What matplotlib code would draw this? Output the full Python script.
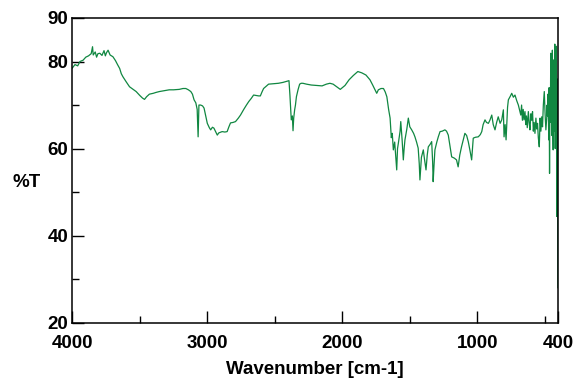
import matplotlib
matplotlib.use("Agg")
import matplotlib.pyplot as plt

# IR spectrum: wavenumber (cm-1) and %T
wavenumber = [
    4000, 3980, 3960, 3943, 3920, 3900, 3880, 3860, 3850, 3845, 3830, 3820,
    3810, 3796, 3780, 3765, 3755, 3747, 3735, 3720, 3699, 3680, 3665, 3649,
    3637, 3625, 3600, 3576, 3550, 3527, 3500, 3480, 3465, 3450, 3429, 3400,
    3380, 3355, 3320, 3282, 3250, 3208, 3180, 3159, 3140, 3122, 3110, 3098,
    3085, 3075, 3068, 3062, 3049, 3035, 3024, 3012, 3000, 2985, 2975, 2962,
    2951, 2940, 2926, 2915, 2890, 2870, 2853, 2840, 2828, 2810, 2791, 2770,
    2754, 2730, 2710, 2693, 2675, 2657, 2640, 2620, 2607, 2595, 2583, 2565,
    2546, 2510, 2473, 2440, 2395, 2388, 2378, 2370, 2365, 2360, 2353, 2347,
    2340, 2328, 2316, 2305, 2292, 2265, 2230, 2190, 2150, 2118, 2092, 2068,
    2042, 2015, 1980, 1950, 1918, 1885, 1856, 1825, 1795, 1775, 1758, 1745,
    1733, 1713, 1695, 1682, 1670, 1657, 1646, 1637, 1630, 1622, 1612, 1604,
    1597, 1591, 1585, 1572, 1567, 1557, 1548, 1542, 1536, 1522, 1511, 1500,
    1486, 1472, 1462, 1450, 1438, 1430, 1425, 1414, 1400, 1391, 1380, 1371,
    1363, 1349, 1338, 1331, 1327, 1321, 1314, 1300, 1289, 1276, 1260, 1240,
    1228, 1215, 1202, 1190, 1170, 1154, 1142, 1130, 1117, 1104, 1092, 1079,
    1067, 1054, 1042, 1036, 1030, 1014, 993, 978, 967, 957, 943, 932,
    918, 907, 893, 882, 869, 857, 845, 831, 819, 807, 802, 794,
    787, 776, 770, 756, 745, 733, 721, 708, 696, 684, 678, 672,
    666, 660, 654, 647, 641, 636, 630, 622, 616, 610, 603, 597,
    591, 585, 579, 573, 566, 560, 554, 548, 541, 535, 529, 523,
    517, 511, 504, 498, 492, 486, 483, 480, 477, 474, 471, 468,
    465, 462, 459, 456, 453, 450, 447, 444, 441, 438, 435, 432,
    429, 426, 423, 420, 417, 414, 411, 408, 405, 403, 402,
]
transmittance = [
    78.5, 79.3, 79.0, 80.0, 80.3, 81.0, 81.3, 81.8, 83.4, 81.5, 82.2, 81.0,
    81.8, 81.9, 81.4, 82.5, 81.3, 82.0, 82.6, 81.5, 81.1, 80.2, 79.3, 78.4,
    77.2, 76.5, 75.3, 74.2, 73.6, 73.1, 72.2, 71.6, 71.3, 71.9, 72.5, 72.7,
    72.9, 73.1, 73.3, 73.5, 73.5, 73.6, 73.8, 73.8, 73.5, 73.1, 72.5, 71.2,
    70.5, 69.0, 62.7, 70.0, 70.0, 69.8, 69.3, 67.5, 65.8, 64.8, 64.3, 64.9,
    64.7, 64.0, 63.1, 63.6, 63.9, 63.8, 63.9, 65.0, 65.9, 66.0, 66.2, 67.0,
    67.7, 69.0, 70.0, 70.8, 71.5, 72.3, 72.2, 72.1, 72.1, 73.0, 73.8, 74.3,
    74.8, 74.9, 75.0, 75.2, 75.6, 72.3, 66.6, 67.5, 64.1, 67.0, 68.9, 70.0,
    71.9, 73.5, 74.8, 75.0, 75.0, 74.8, 74.6, 74.5, 74.4, 74.8, 75.0, 74.8,
    74.2, 73.6, 74.5, 75.8, 76.8, 77.7, 77.4, 76.9, 75.8, 74.6, 73.5, 72.7,
    73.5, 73.8, 73.8, 73.0, 71.9, 69.0, 67.0, 62.5, 63.5, 59.7, 61.5, 58.0,
    55.1, 60.0, 61.2, 64.0, 66.2, 62.0, 57.4, 60.0, 62.0, 64.5, 67.0, 65.0,
    64.3, 63.5, 62.7, 61.5, 60.1, 56.5, 52.8, 58.0, 59.7, 57.5, 55.1, 58.5,
    60.4, 61.0, 61.6, 57.0, 52.4, 56.0, 59.7, 61.5, 62.7, 63.9, 64.0, 64.3,
    64.0, 63.1, 60.5, 58.1, 57.8, 57.4, 55.8, 58.5, 60.4, 62.0, 63.5, 63.0,
    61.6, 59.5, 57.4, 60.0, 62.4, 62.6, 62.7, 63.2, 63.9, 65.5, 66.6, 66.0,
    65.8, 66.5, 67.7, 65.5, 64.3, 66.0, 67.3, 65.8, 66.6, 68.9, 62.7, 65.5,
    62.0, 69.5, 71.2, 72.0, 72.7, 71.8, 72.3, 71.0, 70.0, 68.5, 67.7, 70.0,
    66.5, 69.0, 66.6, 68.5, 65.5, 67.5, 64.8, 68.5, 66.0, 64.3, 68.0, 66.5,
    68.5, 64.0, 66.0, 63.5, 67.0, 64.5, 65.8, 62.5, 60.4, 67.0, 64.0, 67.3,
    65.0, 70.0, 73.1, 68.0, 64.3, 67.0, 70.0, 67.5, 72.5, 69.6, 62.0, 74.0,
    54.3, 72.0, 66.0, 81.9, 68.0, 79.0, 63.0, 82.6, 66.0, 59.7, 75.0, 80.4,
    64.0, 84.0, 60.0, 78.8, 66.0, 83.5, 44.4, 76.0, 65.0, 28.0, 28.0,
]

plt.rcParams['font.family'] = ['Liberation Sans', 'DejaVu Sans']
plt.rcParams['font.weight'] = 'bold'

fig = plt.figure(figsize=(5.76, 3.81), dpi=100)
ax = fig.add_axes([0.1255, 0.153, 0.8438, 0.7998])

ax.plot(wavenumber, transmittance, color='#108741', linewidth=0.9)

ax.set_xlim(4000, 400)
ax.set_ylim(20, 90)
ax.set_xticks([4000, 3000, 2000, 1000, 400])
ax.set_xticks([3500, 2500, 1500, 500], minor=True)
ax.set_yticks([20, 40, 60, 80, 90])
ax.set_yticks([30, 50, 70], minor=True)

ax.tick_params(which='both', direction='in', width=1.0, labelsize=13.5)
ax.tick_params(which='major', length=8.5)
ax.tick_params(which='minor', length=5)
ax.tick_params(axis='x', pad=9)
ax.tick_params(axis='y', pad=3)
for lab in ax.get_xticklabels() + ax.get_yticklabels():
    lab.set_fontweight('bold')
for s in ax.spines.values():
    s.set_linewidth(1.1)

ax.set_xlabel('Wavenumber [cm-1]', fontsize=13.5, fontweight='bold')
ax.xaxis.set_label_coords(0.5, -0.155)
ax.xaxis.label.set_va('center')
ax.set_ylabel('%T', fontsize=13.5, fontweight='bold', rotation=0)
ax.yaxis.set_label_coords(-0.093, 0.46)
ax.yaxis.label.set_va('center')
ax.yaxis.label.set_ha('center')

fig.savefig('out.png', dpi=100)
